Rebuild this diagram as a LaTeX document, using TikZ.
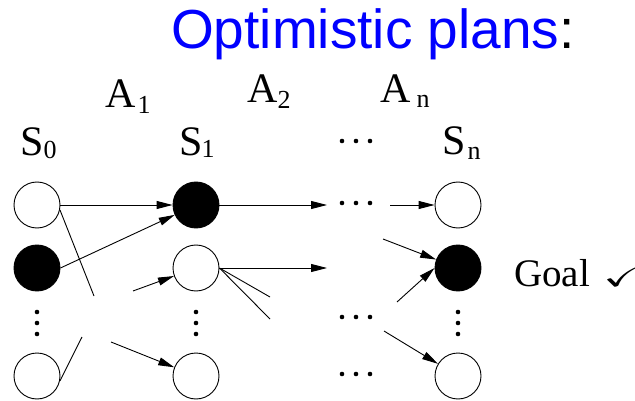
\documentclass[tikz,border=0pt]{standalone}
\usepackage{amssymb}
\usepackage{graphicx}
\usepackage{fontspec}
\setmainfont{Liberation Serif}
\newfontfamily\titlefont{Liberation Sans}
\usetikzlibrary{arrows.meta}
\tikzset{
  st/.style={circle,draw,line width=0.9pt,minimum size=46pt,inner sep=0pt,fill=white},
  stf/.style={st,fill=black},
  dotn/.style={circle,fill=black,inner sep=0pt,minimum size=4.6pt},
  arr/.style={line width=0.9pt,-{Triangle[length=16pt,width=8pt]}},
  ln/.style={line width=0.9pt},
  lbl/.style={anchor=base west,inner sep=0pt,font=\fontsize{42}{42}\selectfont},
}
\newcommand{\subs}[3]{\kern#1\raisebox{#2}{\fontsize{26}{26}\selectfont #3}}
\begin{document}
\begin{tikzpicture}[x=1pt,y=-1pt]
\useasboundingbox (0,0) rectangle (635,401);
% title
\node[anchor=base west,inner sep=0pt,font=\titlefont\fontsize{55}{55}\selectfont] (title) at (171,49) {\textcolor{blue}{Optimistic plans}:};
% action labels
\node[lbl] (a1) at (105,108) {A\subs{2pt}{-6pt}{1}};
\node[lbl] (a2) at (247,103) {A\subs{0pt}{-6pt}{2}};
\node[lbl] (an) at (380,103) {A\subs{6pt}{-5pt}{n}};
% state labels
\node[lbl] (s0) at (20,156) {S\subs{0pt}{-3pt}{0}};
\node[lbl] (s1) at (179,156) {S\subs{-1pt}{-2pt}{1}};
\node[lbl] (sn) at (442,155) {S\subs{2pt}{-5pt}{n}};
\node[dotn] (hd1) at (342,141) {};
\node[dotn] (hd2) at (356,141) {};
\node[dotn] (hd3) at (370,141) {};
% column 0
\node[st]  (c01) at (37,205) {};
\node[stf] (c02) at (37,268) {};
\node[st]  (c04) at (37,376) {};
\node[dotn] (v01) at (37,312) {};
\node[dotn] (v02) at (37,323) {};
\node[dotn] (v03) at (37,334) {};
% column 1
\node[stf] (c11) at (196,205) {};
\node[st]  (c12) at (196,268) {};
\node[st]  (c14) at (196,376) {};
\node[dotn] (v11) at (196,312) {};
\node[dotn] (v12) at (196,323) {};
\node[dotn] (v13) at (196,334) {};
% column n
\node[st]  (cn1) at (458,205) {};
\node[stf] (cn2) at (458,268) {};
\node[st]  (cn4) at (458,376) {};
\node[dotn] (vn1) at (458,312) {};
\node[dotn] (vn2) at (458,323) {};
\node[dotn] (vn3) at (458,334) {};
% horizontal dots
\foreach \y/\r in {203/a,317/b,374/c}{
  \node[dotn] (h\r1) at (342,\y) {};
  \node[dotn] (h\r2) at (356,\y) {};
  \node[dotn] (h\r3) at (370,\y) {};
}
% goal
\node[anchor=base west,inner sep=0pt,font=\fontsize{39}{39}\selectfont] (goal) at (514,286) {Goal};
\node[anchor=base west,inner sep=0pt,font=\fontsize{40}{40}\selectfont] (chk) at (603,286) {\makebox[24pt][l]{\scalebox{1.2}[0.7]{$\checkmark$}}};
% free ends
\coordinate (p1) at (94,296);
\coordinate (q1) at (82,337);
\coordinate (p2) at (133,291);
\coordinate (p3) at (111,342);
\coordinate (e1) at (327,205);
\coordinate (e2) at (327,268);
\coordinate (f1) at (270,297);
\coordinate (f2) at (270,319);
\coordinate (g1) at (390,205);
\coordinate (g2) at (383,239);
\coordinate (g3) at (397,302);
\coordinate (g4) at (384,331);
% connectors
\draw[arr] (c01) -- (c11);
\draw[arr] (c02.east) -- (c11);
\draw[ln] (c01.-12) -- (p1);
\draw[ln] (c04.-12) -- (q1);
\draw[arr] (p2) -- (c12);
\draw[arr] (p3) -- (c14);
\draw[arr] (c11) -- (e1);
\draw[arr] (c12) -- (e2);
\draw[ln] (c12.east) -- (f1);
\draw[ln] (c12.east) -- (f2);
\draw[arr] (g1) -- (cn1);
\draw[arr] (g2) -- (cn2);
\draw[arr] (g3) -- (cn2.west);
\draw[arr] (g4) -- (cn4);
\end{tikzpicture}
\end{document}
